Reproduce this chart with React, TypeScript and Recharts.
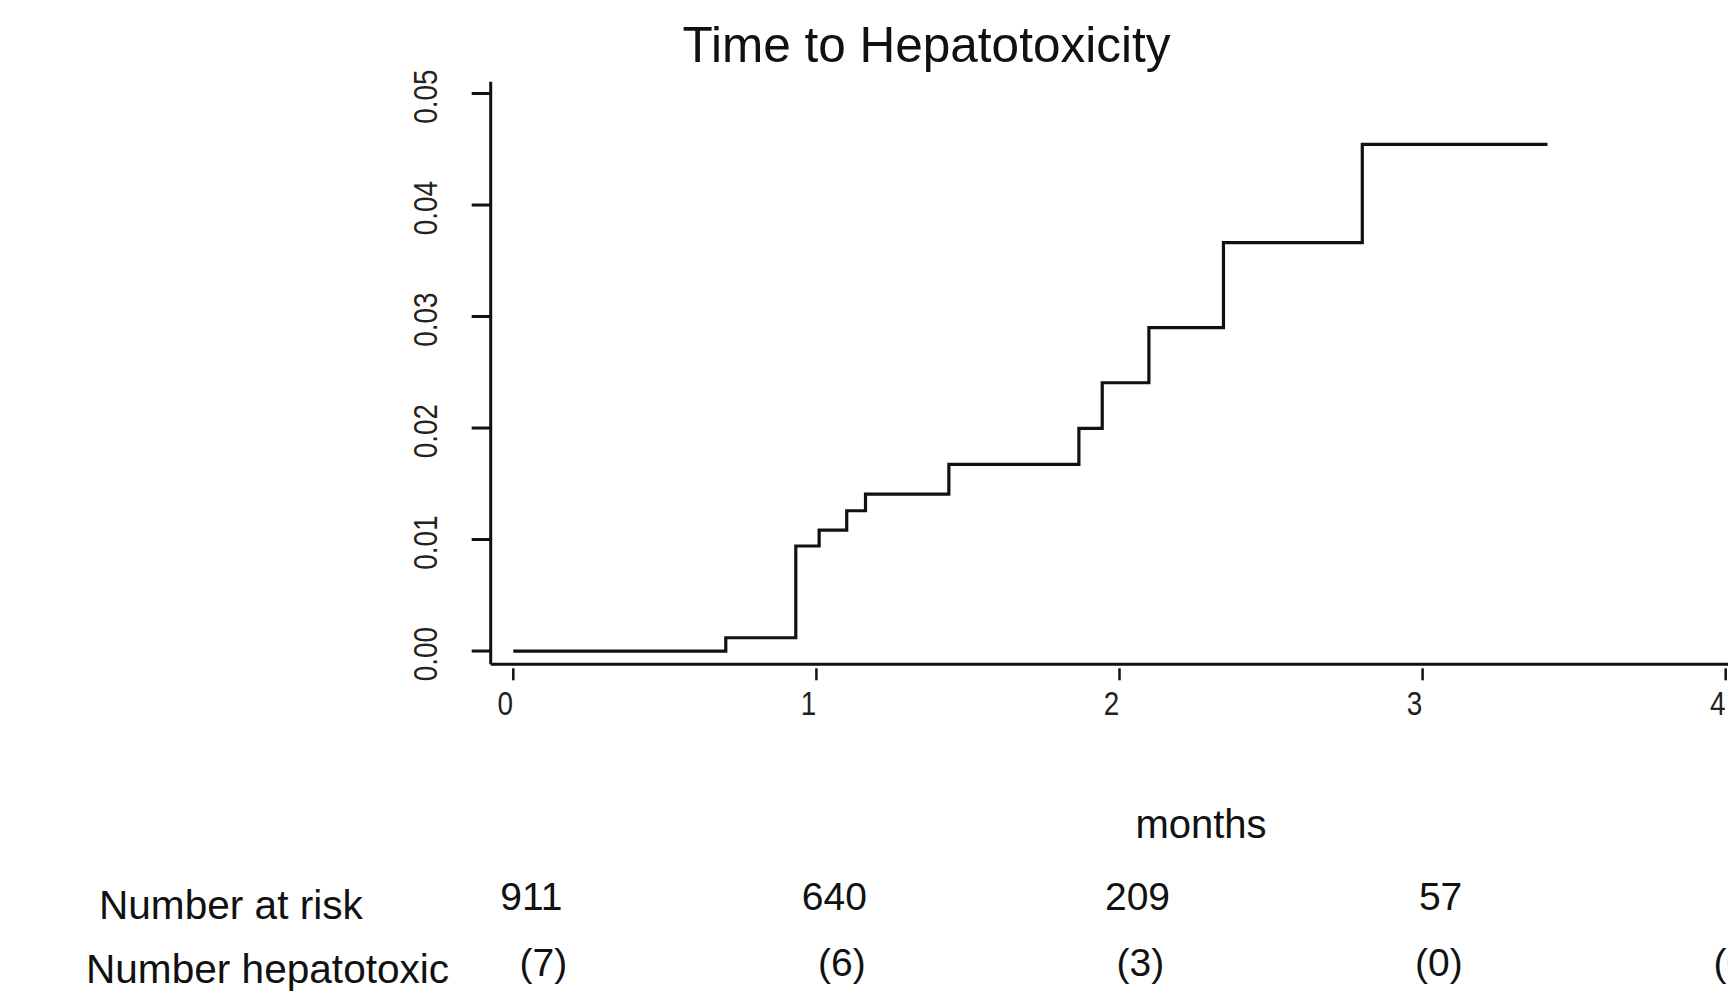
import React from "react";
import { Line, LineChart, XAxis, YAxis } from "recharts";

// cumulative incidence of hepatotoxicity
const months = [0, 0.701, 0.932, 1.009, 1.1, 1.162, 1.437, 1.866, 1.943, 2.097, 2.343, 2.801, 3.412];
const cumHepatotoxicity = [
  0, 0.00119, 0.00942, 0.01085, 0.01258, 0.01408, 0.01674, 0.01997, 0.02406, 0.029, 0.03662, 0.04544,
  0.04544,
];

const xTicks = [0, 1, 2, 3, 4];
const yTicks = [0, 0.01, 0.02, 0.03, 0.04, 0.05];

const numberAtRisk = [911, 640, 209, 57];
const numberHepatotoxic = [7, 6, 3, 0, 0];

const data = months.map((t, i) => ({ t, value: cumHepatotoxicity[i] }));

const FONT = "'Liberation Sans', Arial, Helvetica, sans-serif";
const INK = "#111";

function MonthTick(props: any) {
  const { x, y, payload } = props;
  const i = xTicks.indexOf(payload.value);
  const risk = numberAtRisk[i];
  const hep = numberHepatotoxic[i];
  return (
    <g>
      <line x1={x} x2={x} y1={y + 4} y2={y + 16} stroke={INK} strokeWidth={2.5} />
      <text
        transform={`translate(${x - 8},${y + 51}) scale(0.82,1)`}
        textAnchor="middle"
        fontFamily={FONT}
        fontSize={34}
        fill="#222"
      >
        {payload.value}
      </text>
      {risk !== undefined && (
        <text x={x + 18} y={y + 246} textAnchor="middle" fontFamily={FONT} fontSize={39} fill={INK}>
          {risk}
        </text>
      )}
      {hep !== undefined && (
        <text x={x + 30 - 4.6 * i} y={y + 311.7} textAnchor="middle" fontFamily={FONT} fontSize={39} fill={INK}>
          ({hep})
        </text>
      )}
    </g>
  );
}

function RiskTick(props: any) {
  const { x, y, payload } = props;
  return (
    <text
      transform={`translate(${x - 34.4},${y + 3}) rotate(-90) scale(0.82,1)`}
      textAnchor="middle"
      fontFamily={FONT}
      fontSize={34}
      fill="#222"
    >
      {Number(payload.value).toFixed(2)}
    </text>
  );
}

export default function App() {
  return (
    <div style={{ position: "absolute", left: 0, top: 0, width: 1728, height: 997, background: "#fff" }}>
      <LineChart
        width={1728}
        height={997}
        data={data}
        margin={{ top: 81.7, right: 0, left: 390.7, bottom: 272.7 }}
      >
        <XAxis
          type="number"
          dataKey="t"
          domain={[-0.0746, 4.0076]}
          ticks={xTicks}
          allowDataOverflow
          height={60}
          tickSize={0}
          tickMargin={0}
          tickLine={false}
          axisLine={{ stroke: INK, strokeWidth: 3 }}
          tick={<MonthTick />}
          interval={0}
        />
        <YAxis
          type="number"
          domain={[-0.00119, 0.05106]}
          ticks={yTicks}
          allowDataOverflow
          width={100}
          tickSize={19}
          tickMargin={0}
          tickLine={{ stroke: INK, strokeWidth: 3 }}
          axisLine={{ stroke: INK, strokeWidth: 3 }}
          tick={<RiskTick />}
          interval={0}
        />
        <Line
          type="stepAfter"
          dataKey="value"
          stroke={INK}
          strokeWidth={3.2}
          strokeLinejoin="miter"
          dot={false}
          activeDot={false}
          isAnimationActive={false}
        />
      </LineChart>
      <svg
        width={1728}
        height={997}
        style={{ position: "absolute", left: 0, top: 0, pointerEvents: "none" }}
      >
        <text x={926.5} y={62} textAnchor="middle" fontFamily={FONT} fontSize={49.5} fill={INK}>
          Time to Hepatotoxicity
        </text>
        <text x={1201} y={838} textAnchor="middle" fontFamily={FONT} fontSize={40} fill={INK}>
          months
        </text>
        <text x={99} y={919} fontFamily={FONT} fontSize={40.6} fill={INK}>
          Number at risk
        </text>
        <text x={86} y={983} fontFamily={FONT} fontSize={40.6} fill={INK}>
          Number hepatotoxic
        </text>
      </svg>
    </div>
  );
}
